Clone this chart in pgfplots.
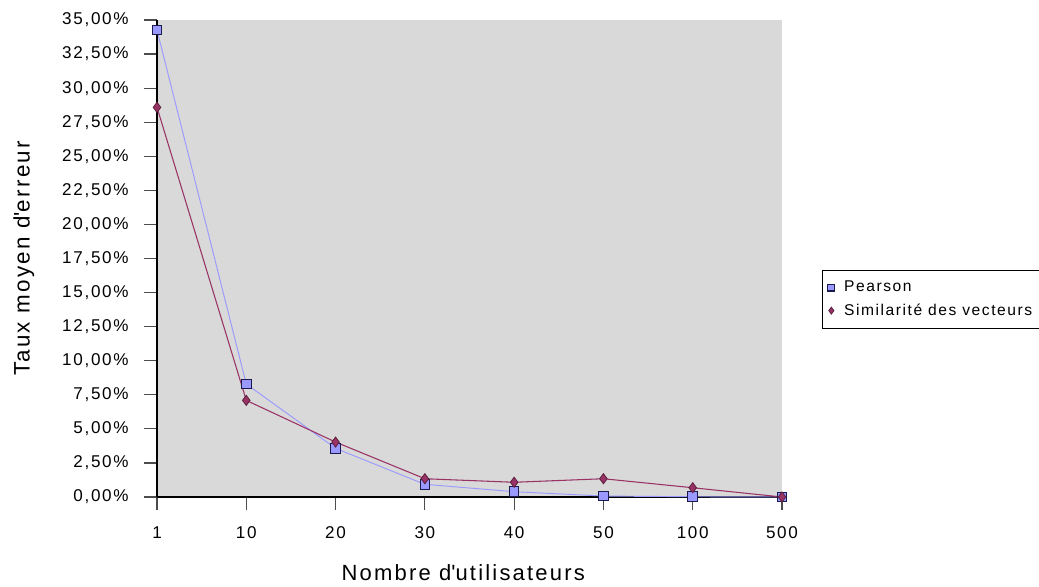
\documentclass[border=0pt]{standalone}
\usepackage{pgfplots}
\pgfplotsset{compat=1.18}
\usepackage{fontspec}
\setmainfont{Liberation Sans}
\newfontfamily\xl[LetterSpace=10]{Liberation Sans}
\definecolor{bgc}{HTML}{D9D9D9}
\definecolor{pear}{HTML}{9999FF}
\definecolor{simc}{HTML}{993366}
\definecolor{pearb}{HTML}{1A1A4D}
\begin{document}
\begin{tikzpicture}[x=0.75pt,y=0.75pt]
\useasboundingbox (0,0) rectangle (1039,586);
\begin{axis}[
  at={(157*0.75pt,89*0.75pt)}, anchor=south west,
  scale only axis, width=468.75pt, height=357.75pt,
  xmin=0, xmax=7, ymin=0, ymax=35,
  axis background/.style={fill=bgc},
  axis x line*=bottom, axis y line*=left,
  axis line style={black, line width=1.2pt},
  xtick={0,...,7},
  xticklabels={1,10,20,30,40,50,100,500},
  ytick={0,2.5,...,35},
  yticklabels={{0,00\%},{2,50\%},{5,00\%},{7,50\%},{10,00\%},{12,50\%},{15,00\%},{17,50\%},{20,00\%},{22,50\%},{25,00\%},{27,50\%},{30,00\%},{32,50\%},{35,00\%}},
  tick align=outside, major tick length=9.75pt,
  tick style={black!70, line width=0.9pt},
  tick label style={font=\fontsize{12.8pt}{15pt}\xl},
  yticklabel style={xshift=-8pt},
  xticklabel style={yshift=-9pt},
  every axis y label/.style={at={(axis description cs:-0.213,0.5)}, rotate=90, anchor=center, font=\fontsize{16.8pt}{19pt}\xl},
  every axis x label/.style={at={(axis description cs:0.49,-0.158)}, anchor=center, font=\fontsize{16.5pt}{19pt}\xl},
  ylabel={Taux moyen d\textquotesingle erreur},
  xlabel={Nombre d\textquotesingle utilisateurs},
  legend style={at={(1.064,0.476)}, anchor=north west, draw=black, fill=white, line width=0.8pt,
    font=\fontsize{11.7pt}{14pt}\xl, row sep=3.5pt, inner xsep=4pt, inner ysep=6pt,
    /tikz/every odd column/.append style={column sep=5pt}},
  legend cell align=left,
  legend image code/.code={\draw[#1, mark size=2.6pt, mark repeat=1] plot coordinates {(0.12cm,0cm)};},
  clip=false,
]
\addplot[pear, line width=0.7pt, mark=square*, mark size=3.6pt, mark options={fill=pear, draw=pearb, line width=0.8pt}]
  coordinates {(0,34.26) (1,8.29) (2,3.57) (3,0.93) (4,0.39) (5,0.07) (6,0.02) (7,0.0)};
\addlegendentry{Pearson}
\addplot[simc, line width=0.8pt, mark=diamond*, mark size=3.8pt, mark options={fill=simc, draw=simc!60!black, line width=0.6pt}]
  coordinates {(0,28.59) (1,7.09) (2,4.03) (3,1.34) (4,1.08) (5,1.34) (6,0.68) (7,0.0)};
\addlegendentry{Similarité des vecteurs}
\end{axis}
\end{tikzpicture}
\end{document}
